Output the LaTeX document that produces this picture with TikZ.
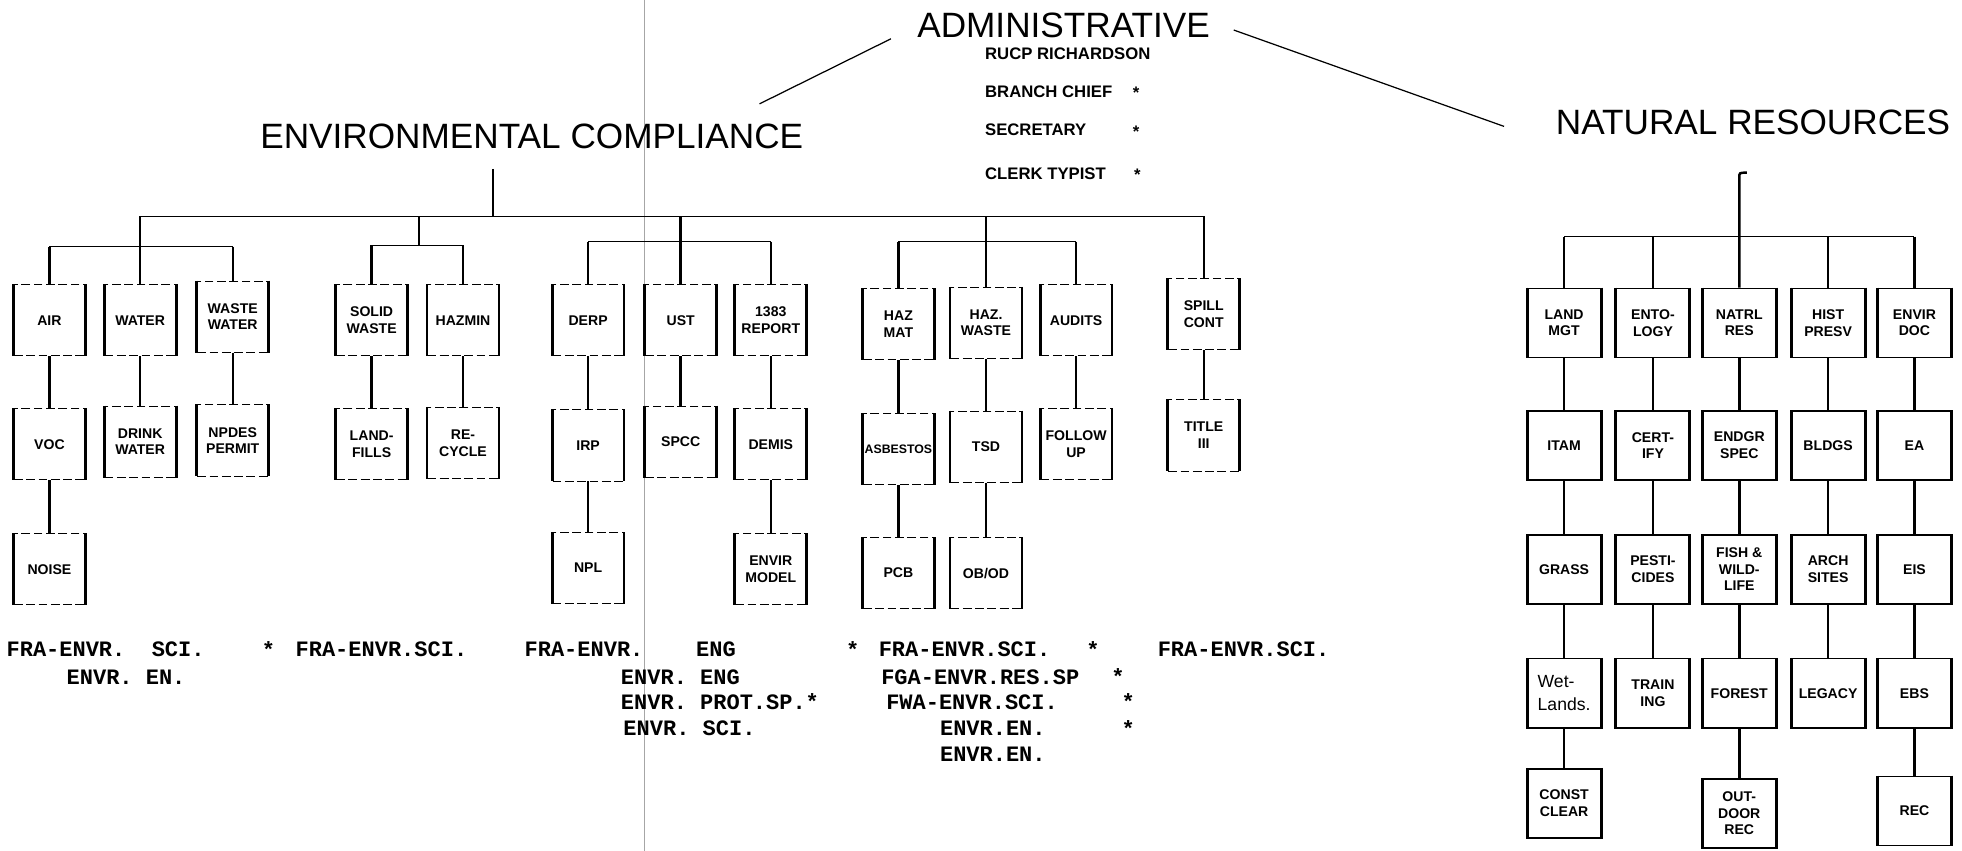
\documentclass[tikz,border=0pt]{standalone}
\usepackage{fontspec}
\setmainfont{Liberation Sans}
\setmonofont{Liberation Mono}
\usetikzlibrary{positioning}
\tikzset{
  heading/.style={font=\fontsize{20}{24}\selectfont,inner sep=0pt},
  staffline/.style={font=\fontsize{9.5}{11}\selectfont\bfseries,anchor=west,inner sep=0pt},
  ecbox/.style={draw,line width=0.5pt,dash pattern=on 5pt off 2pt,
                minimum width=1.42cm,minimum height=1.42cm,inner sep=1pt,
                align=center,font=\fontsize{8}{9.5}\selectfont\bfseries},
  nrbox/.style={draw,line width=0.9pt,
                minimum width=1.45cm,minimum height=1.38cm,inner sep=1pt,
                align=center,font=\fontsize{8}{9.5}\selectfont\bfseries},
  sidebar/.style={line width=1.6pt},
  bus/.style={line width=0.6pt},
  drop/.style={line width=1.4pt},
  link/.style={line width=0.7pt},
  typed/.style={font=\ttfamily\bfseries\fontsize{12.5}{14}\selectfont,anchor=west,inner sep=0pt},
  fold/.style={line width=0.4pt,black!35}
}
\begin{document}
\begin{tikzpicture}[x=0.025cm,y=-0.025cm]
  \useasboundingbox (0,0) rectangle (1568,680);
  \draw[fold] (515,0) -- (515,680);

  % headings
  \node[heading] (admin) at (850,20) {ADMINISTRATIVE};
  \node[heading] (ectitle) at (425,109) {ENVIRONMENTAL COMPLIANCE};
  \node[heading] (nrtitle) at (1401,98) {NATURAL RESOURCES};
  \coordinate (adml) at (712,31);
  \coordinate (ecr) at (607,83);
  \coordinate (admr) at (986,24);
  \coordinate (nrl) at (1202,101);
  \draw[link] (adml) -- (ecr);
  \draw[link] (admr) -- (nrl);

  % admin staff
  \node[staffline] (chief0) at (787,43) {RUCP RICHARDSON};
  \node[staffline] (chief) at (787,73) {BRANCH CHIEF};
  \node[staffline] (secy) at (787,104) {SECRETARY};
  \node[staffline] (typist) at (787,139) {CLERK TYPIST};
  \node[staffline] (chiefstar) at (905,74) {*};
  \node[staffline] (secystar) at (905,105) {*};
  \node[staffline] (typiststar) at (906,140) {*};

  % environmental compliance, first row
  \node[ecbox] (air) at (39.5,256) {AIR};
  \node[ecbox] (water) at (112,256) {WATER};
  \node[ecbox] (wwater) at (186,253) {WASTE\\WATER};
  \node[ecbox] (solid) at (297,256) {SOLID\\WASTE};
  \node[ecbox] (hazmin) at (370,256) {HAZMIN};
  \node[ecbox] (derp) at (470,256) {DERP};
  \node[ecbox] (ust) at (544,256) {UST};
  \node[ecbox] (report) at (616,256) {1383\\REPORT};
  \node[ecbox] (hazmat) at (718,259) {HAZ\\MAT};
  \node[ecbox] (hwaste) at (788,258) {HAZ.\\WASTE};
  \node[ecbox] (audits) at (860,256) {AUDITS};
  \node[ecbox] (spill) at (962,251) {SPILL\\CONT};
  % second row
  \node[ecbox] (voc) at (39.5,355) {VOC};
  \node[ecbox] (drink) at (112,353) {DRINK\\WATER};
  \node[ecbox] (npdes) at (186,352) {NPDES\\PERMIT};
  \node[ecbox] (landfill) at (297,355) {LAND-\\FILLS};
  \node[ecbox] (recycle) at (370,354) {RE-\\CYCLE};
  \node[ecbox] (irp) at (470,356) {IRP};
  \node[ecbox] (spcc) at (544,353) {SPCC};
  \node[ecbox] (demis) at (616,355) {DEMIS};
  \node[ecbox,font=\fontsize{7}{8}\selectfont\bfseries] (asbestos) at (718,359) {ASBESTOS};
  \node[ecbox] (tsd) at (788,357) {TSD};
  \node[ecbox] (followup) at (860,355) {FOLLOW\\UP};
  \node[ecbox] (title3) at (962,348) {TITLE\\III};
  % third row
  \node[ecbox] (noise) at (39.5,455) {NOISE};
  \node[ecbox] (npl) at (470,454) {NPL};
  \node[ecbox] (model) at (616,455) {ENVIR\\MODEL};
  \node[ecbox] (pcb) at (718,458) {PCB};
  \node[ecbox] (obod) at (788,458) {OB/OD};

  % environmental compliance lines
  \coordinate (ectop) at (394,135);
  \coordinate (ecjoin) at (394,173);
  \draw[drop] (ectop) -- (ecjoin);
  \coordinate (g1) at (water |- ecjoin);
  \coordinate (g2) at (335,173);
  \coordinate (g3) at (ust |- ecjoin);
  \coordinate (g4) at (hwaste |- ecjoin);
  \coordinate (g5) at (spill |- ecjoin);
  \draw[bus] (g1) -- (g5);
  \coordinate (g1s) at (112,197);
  \coordinate (g2s) at (335,196);
  \coordinate (g3s) at (544,193);
  \coordinate (g4s) at (788,193);
  \draw[drop] (g1) -- (water);
  \draw[drop] (g2) -- (g2s);
  \draw[drop] (g3) -- (ust);
  \draw[drop] (g4) -- (hwaste);
  \draw[drop] (g5) -- (spill);
  \draw[bus] (air |- g1s) -- (wwater |- g1s);
  \draw[bus] (solid |- g2s) -- (hazmin |- g2s);
  \draw[bus] (derp |- g3s) -- (report |- g3s);
  \draw[bus] (hazmat |- g4s) -- (audits |- g4s);
  \draw[drop] (air |- g1s) -- (air);
  \draw[drop] (wwater |- g1s) -- (wwater);
  \draw[drop] (solid |- g2s) -- (solid);
  \draw[drop] (hazmin |- g2s) -- (hazmin);
  \draw[drop] (derp |- g3s) -- (derp);
  \draw[drop] (report |- g3s) -- (report);
  \draw[drop] (hazmat |- g4s) -- (hazmat);
  \draw[drop] (audits |- g4s) -- (audits);
  \foreach \a/\b in {air/voc,voc/noise,water/drink,wwater/npdes,solid/landfill,
                     hazmin/recycle,derp/irp,irp/npl,ust/spcc,report/demis,demis/model,
                     hazmat/asbestos,asbestos/pcb,hwaste/tsd,tsd/obod,audits/followup,spill/title3}
    \draw[drop] (\a) -- (\b);
  \foreach \b in {air,water,wwater,solid,hazmin,derp,ust,report,hazmat,hwaste,audits,spill,
                  voc,drink,npdes,landfill,recycle,irp,spcc,demis,asbestos,tsd,followup,title3,
                  noise,npl,model,pcb,obod}
    \draw[sidebar] (\b.north west) -- (\b.south west) (\b.north east) -- (\b.south east);

  % position titles
  \node[typed] (sci1) at (5,519) {FRA-ENVR.~~SCI.};
  \node[typed] (sci1star) at (209,519) {*};
  \node[typed] (en1) at (53,541) {ENVR. EN.};
  \node[typed] (sci2) at (236,519) {FRA-ENVR.SCI.};
  \node[typed] (eng1) at (419,519) {FRA-ENVR.~~~~ENG};
  \node[typed] (eng1star) at (676,519) {*};
  \node[typed] (eng2) at (496,541) {ENVR. ENG};
  \node[typed] (prot) at (496,561) {ENVR. PROT.SP.*};
  \node[typed] (sci3) at (498,582) {ENVR. SCI.};
  \node[typed] (sci4) at (702,519) {FRA-ENVR.SCI.};
  \node[typed] (sci4star) at (868,519) {*};
  \node[typed] (res) at (704,541) {FGA-ENVR.RES.SP};
  \node[typed] (resstar) at (888,541) {*};
  \node[typed] (fwa) at (708,561) {FWA-ENVR.SCI.};
  \node[typed] (fwastar) at (896,561) {*};
  \node[typed] (en2) at (751,582) {ENVR.EN.};
  \node[typed] (en2star) at (896,582) {*};
  \node[typed] (en3) at (751,603) {ENVR.EN.};
  \node[typed] (sci5) at (925,519) {FRA-ENVR.SCI.};

  % natural resources
  \node[nrbox] (landmgt) at (1250,258) {LAND\\MGT};
  \node[nrbox] (ento) at (1321,258) {ENTO-\\LOGY};
  \node[nrbox] (natrl) at (1390,258) {NATRL\\RES};
  \node[nrbox] (hist) at (1461,258) {HIST\\PRESV};
  \node[nrbox] (envdoc) at (1530,258) {ENVIR\\DOC};
  \node[nrbox] (itam) at (1250,356) {ITAM};
  \node[nrbox] (certify) at (1321,356) {CERT-\\IFY};
  \node[nrbox] (endgr) at (1390,356) {ENDGR\\SPEC};
  \node[nrbox] (bldgs) at (1461,356) {BLDGS};
  \node[nrbox] (ea) at (1530,356) {EA};
  \node[nrbox] (grass) at (1250,455) {GRASS};
  \node[nrbox] (pesti) at (1321,455) {PESTI-\\CIDES};
  \node[nrbox] (fish) at (1390,455) {FISH \&\\WILD-\\LIFE};
  \node[nrbox] (arch) at (1461,455) {ARCH\\SITES};
  \node[nrbox] (eis) at (1530,455) {EIS};
  \node[nrbox,align=left,font=\fontsize{10}{13}\selectfont] (wetlands) at (1250,554) {Wet-\\Lands.};
  \node[nrbox] (train) at (1321,554) {TRAIN\\ING};
  \node[nrbox] (forest) at (1390,554) {FOREST};
  \node[nrbox] (legacy) at (1461,554) {LEGACY};
  \node[nrbox] (ebs) at (1530,554) {EBS};
  \node[nrbox] (const) at (1250,642) {CONST\\CLEAR};
  \node[nrbox] (outdoor) at (1390,650) {OUT-\\DOOR\\REC};
  \node[nrbox] (rec) at (1530,648) {REC};

  % natural resources lines
  \coordinate (nrtop) at (1390,142);
  \coordinate (nrjoin) at (1390,189);
  \draw[drop] (natrl) -- (nrtop) .. controls (1390,138) .. (1396,138);
  \draw[bus,line width=1pt] (landmgt |- nrjoin) -- (envdoc |- nrjoin);
  \foreach \b in {landmgt,ento,hist,envdoc}
    \draw[drop] (\b |- nrjoin) -- (\b);
  \foreach \a/\b in {landmgt/itam,itam/grass,grass/wetlands,wetlands/const,
                     ento/certify,certify/pesti,pesti/train,
                     natrl/endgr,endgr/fish,fish/forest,forest/outdoor,
                     hist/bldgs,bldgs/arch,arch/legacy,
                     envdoc/ea,ea/eis,eis/ebs,ebs/rec}
    \draw[drop] (\a) -- (\b);
  \foreach \b in {landmgt,ento,natrl,hist,envdoc,itam,certify,endgr,bldgs,ea,
                  grass,pesti,fish,arch,eis,wetlands,train,forest,legacy,ebs,
                  const,outdoor,rec}
    \draw[sidebar] (\b.north west) -- (\b.south west) (\b.north east) -- (\b.south east);
\end{tikzpicture}
\end{document}
